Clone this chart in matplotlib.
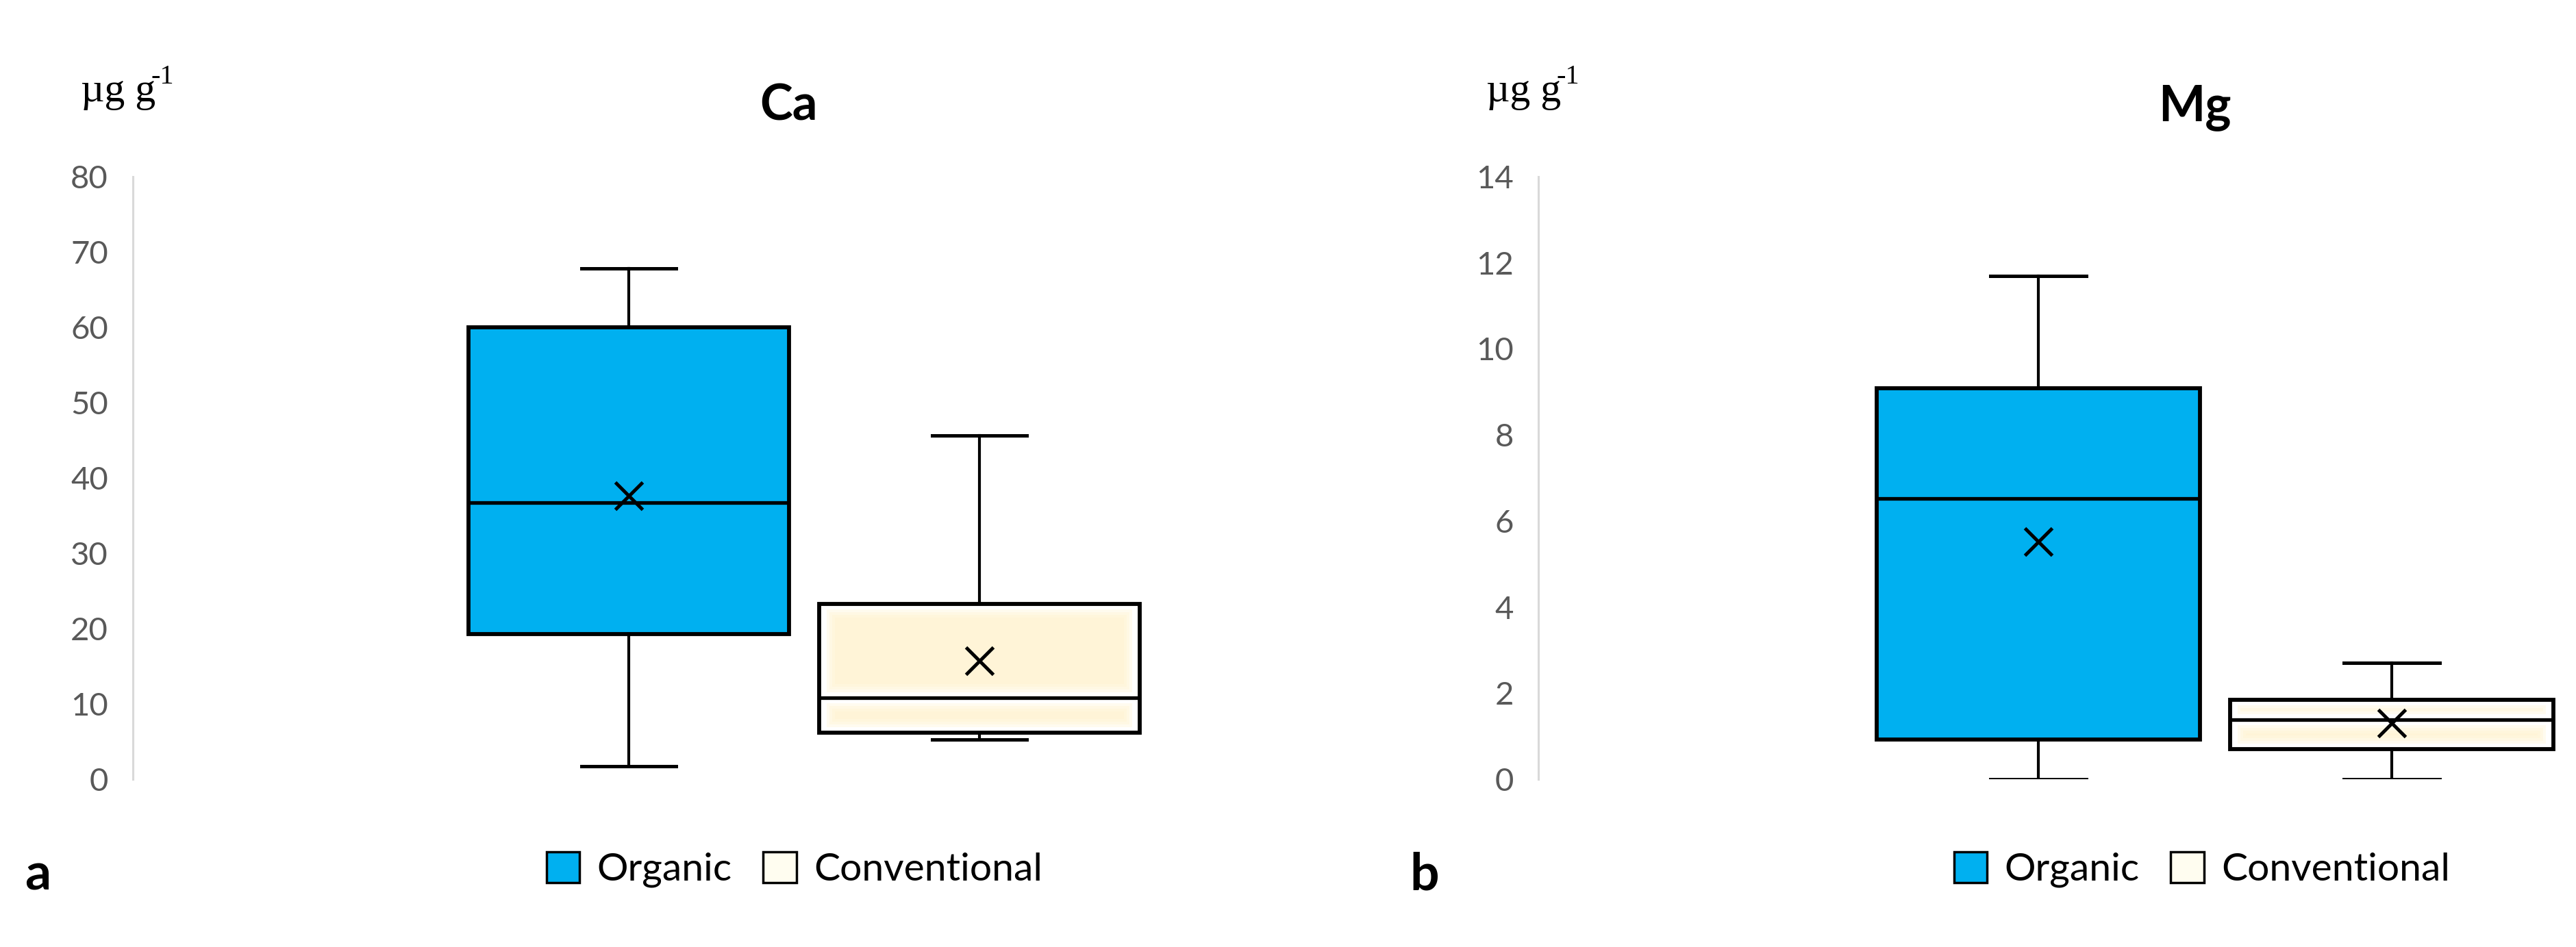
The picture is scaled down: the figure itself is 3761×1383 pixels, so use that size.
import matplotlib
matplotlib.use("Agg")
import matplotlib.pyplot as plt
from matplotlib.patches import Patch, Rectangle

# values
groups = ["Organic", "Conventional"]
colors = ["#00b0f0", "#ffffff"]
cream = "#fff2cc"

ca_q1 = [19.3, 6.2]
ca_med = [36.7, 10.8]
ca_q3 = [60.0, 23.3]
ca_lo = [1.7, 5.3]
ca_hi = [67.8, 45.6]
ca_mean = [37.6, 15.7]
ca_ticks = [0, 10, 20, 30, 40, 50, 60, 70, 80]

mg_q1 = [0.92, 0.70]
mg_med = [6.52, 1.38]
mg_q3 = [9.08, 1.84]
mg_lo = [0.0, 0.0]
mg_hi = [11.7, 2.7]
mg_mean = [5.52, 1.30]
mg_ticks = [0, 2, 4, 6, 8, 10, 12, 14]

W, H = 3762, 1383
fig = plt.figure(figsize=(W / 100, H / 100), dpi=100)
font = "Lato"


def fx(x):
    return x / W


def fy(y):
    return 1 - y / H


def panel(left, right, xl, xr, q1, med, q3, lo, hi, mean, ticks, title, tx, letter, lx, legx):
    top, bottom = 258, 1138
    ax = fig.add_axes([fx(left), fy(bottom), (right - left) / W, (bottom - top) / H])
    stats = []
    for i in range(len(groups)):
        stats.append(dict(label=groups[i], q1=q1[i], med=med[i], q3=q3[i],
                          whislo=lo[i], whishi=hi[i], mean=mean[i], fliers=[]))
    pos = [1, 2]
    bp = ax.bxp(stats, positions=pos, widths=0.915, patch_artist=True,
                showmeans=True, capwidths=0.27,
                boxprops=dict(linewidth=4.2, edgecolor="black"),
                whiskerprops=dict(linewidth=3.0, color="black"),
                capprops=dict(linewidth=3.6, color="black"),
                medianprops=dict(linewidth=3.8, color="black", zorder=3),
                meanprops=dict(marker="x", markersize=29, markeredgewidth=3.6,
                               markeredgecolor="black", zorder=4))
    for b, c in zip(bp["boxes"], colors):
        b.set_facecolor(c)

    ax.set_xlim(xl, xr)
    ax.set_ylim(ticks[0], ticks[-1])
    ax.set_yticks(ticks)
    ax.set_xticks([])
    for s in ["top", "right", "bottom"]:
        ax.spines[s].set_visible(False)
    ax.spines["left"].set_color("#d9d9d9")
    ax.spines["left"].set_linewidth(2.2)
    ax.tick_params(axis="y", length=0, pad=26, labelsize=34, labelcolor="#595959")
    for t in ax.get_yticklabels():
        t.set_fontfamily(font)

    # soft cream glow inside the conventional box
    upp = (ticks[-1] - ticks[0]) / (bottom - top)
    xpp = (xr - xl) / (right - left)
    half = 0.915 / 2
    for a, b in [(q1[1], med[1]), (med[1], q3[1])]:
        for inset in [11, 15, 19, 23]:
            x0 = pos[1] - half + inset * xpp
            y0 = a + (inset - 3) * upp
            w = 2 * half - 2 * inset * xpp
            h = (b - a) - 2 * (inset - 3) * upp
            if h > 0 and w > 0:
                ax.add_patch(Rectangle((x0, y0), w, h, facecolor=cream,
                                       edgecolor="none", alpha=0.3, zorder=2.05))

    fig.text(fx(tx), fy(176), title, fontsize=52, fontweight="bold",
             family=font, ha="center", va="baseline")
    fig.text(fx(lx), fy(1300), letter, fontsize=54, fontweight="bold",
             family=font, ha="center", va="baseline")
    fig.text(fx(left - 76), fy(148), "µg g", fontsize=43,
             family="Liberation Serif", ha="left", va="baseline")
    fig.text(fx(left - 76 + 103), fy(122), "-1", fontsize=29,
             family="Liberation Serif", ha="left", va="baseline")
    handles = [Patch(facecolor=colors[0], edgecolor="black", linewidth=2.5),
               Patch(facecolor="#fffdf0", edgecolor="black", linewidth=2.5)]
    fig.legend(handles, groups, loc="center", bbox_to_anchor=(fx(legx), fy(1270)),
               ncol=2, frameon=False, prop=dict(family=font, size=41),
               handlelength=0.85, handleheight=0.85, handletextpad=0.45,
               columnspacing=0.8, borderaxespad=0)
    return ax


panel(194, 1860, 1 - 724 / 512, 1 + (1860 - 918) / 512,
      ca_q1, ca_med, ca_q3, ca_lo, ca_hi, ca_mean, ca_ticks, "Ca", 1152, "a", 55, 1160)
panel(2246, 3760, 1 - 730 / 516, 1 + (3760 - 2976) / 516,
      mg_q1, mg_med, mg_q3, mg_lo, mg_hi, mg_mean, mg_ticks, "Mg", 3204, "b", 2080, 3215)

fig.savefig("out.png", dpi=100, facecolor="white")
